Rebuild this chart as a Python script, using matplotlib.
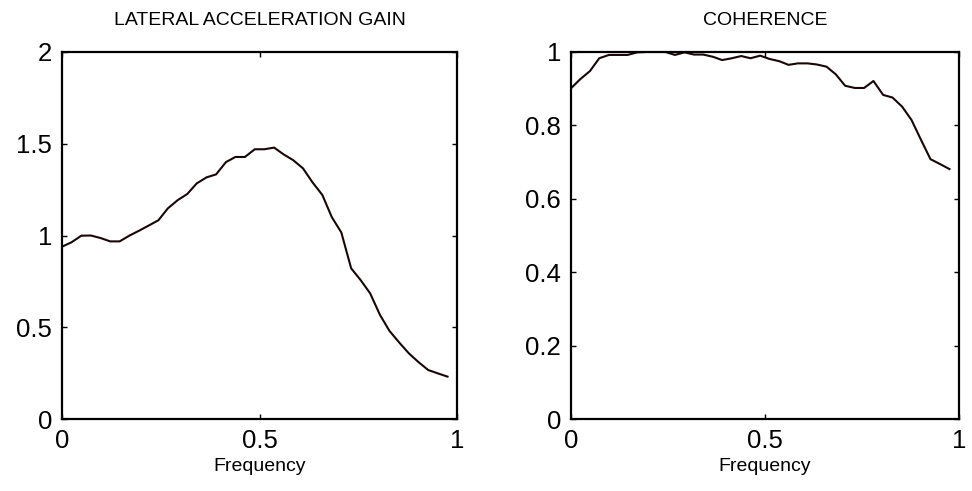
import matplotlib
matplotlib.use("Agg")
import matplotlib.pyplot as plt
from matplotlib.ticker import FuncFormatter

# Data
freq = [0.000, 0.024, 0.049, 0.073, 0.098, 0.122, 0.146, 0.171, 0.195, 0.220,
        0.244, 0.268, 0.293, 0.317, 0.341, 0.366, 0.390, 0.415, 0.439, 0.463,
        0.488, 0.512, 0.537, 0.561, 0.585, 0.610, 0.634, 0.659, 0.683, 0.707,
        0.732, 0.756, 0.780, 0.805, 0.829, 0.854, 0.878, 0.902, 0.927, 0.951,
        0.976]

gain = [0.939, 0.963, 0.999, 1.000, 0.986, 0.968, 0.968, 1.000, 1.026, 1.055,
        1.083, 1.148, 1.193, 1.226, 1.284, 1.317, 1.333, 1.400, 1.428, 1.428,
        1.470, 1.470, 1.479, 1.442, 1.411, 1.366, 1.290, 1.221, 1.100, 1.017,
        0.821, 0.757, 0.685, 0.567, 0.480, 0.416, 0.358, 0.311, 0.267, 0.249,
        0.231]

coherence = [0.901, 0.926, 0.948, 0.983, 0.992, 0.992, 0.992, 0.999, 1.000, 1.000,
             1.000, 0.992, 0.999, 0.993, 0.993, 0.987, 0.978, 0.983, 0.989, 0.983,
             0.990, 0.981, 0.975, 0.965, 0.969, 0.969, 0.966, 0.960, 0.939, 0.908,
             0.902, 0.902, 0.921, 0.883, 0.876, 0.851, 0.815, 0.762, 0.708, 0.695,
             0.681]

titles = ["LATERAL ACCELERATION GAIN", "COHERENCE"]
xlabel = "Frequency"
gain_ticks = [0, 0.5, 1, 1.5, 2]
coh_ticks = [0, 0.2, 0.4, 0.6, 0.8, 1]
x_ticks = [0, 0.5, 1]

plt.rcParams['font.family'] = ['Liberation Sans', 'DejaVu Sans']

fig = plt.figure(figsize=(9.72, 4.91), dpi=100)
ax1 = fig.add_axes([0.0638, 0.1466, 0.4064, 0.7475])
ax2 = fig.add_axes([0.5874, 0.1466, 0.3990, 0.7475])

fmt = FuncFormatter(lambda v, p: "%g" % v)
line_color = "#1a0606"

for ax, y, yt, ttl in [(ax1, gain, gain_ticks, titles[0]),
                       (ax2, coherence, coh_ticks, titles[1])]:
    ax.plot(freq, y, color=line_color, lw=1.5)
    ax.set_xlim(0, 1)
    ax.set_ylim(yt[0], yt[-1])
    ax.set_xticks(x_ticks)
    ax.set_yticks(yt)
    ax.xaxis.set_major_formatter(fmt)
    ax.yaxis.set_major_formatter(fmt)
    ax.tick_params(direction='in', length=3.5, width=1.0, top=True, right=True,
                   labelsize=18.5, pad=7, colors='black')
    for s in ax.spines.values():
        s.set_linewidth(1.6)
        s.set_color('black')
    ax.set_title(ttl, fontsize=14, pad=19.5)
    ax.set_xlabel(xlabel, fontsize=14, labelpad=3.5)

fig.savefig("out.png", dpi=100)
